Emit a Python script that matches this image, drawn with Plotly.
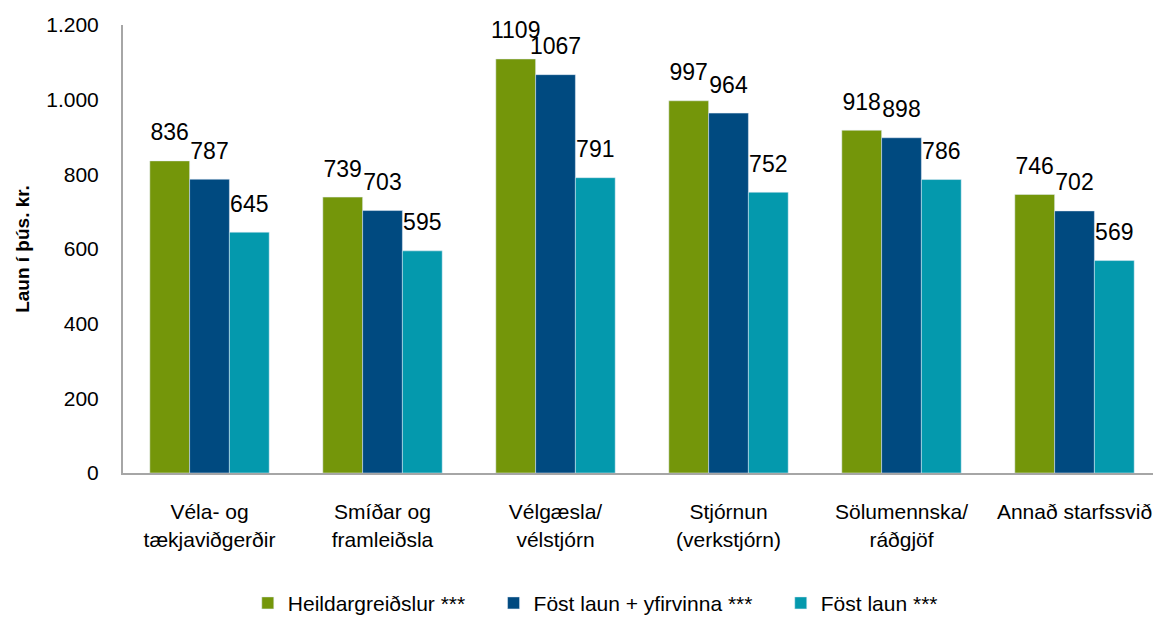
import plotly.graph_objects as go

categories = ["Véla- og<br>tækjaviðgerðir", "Smíðar og<br>framleiðsla", "Vélgæsla/<br>vélstjórn",
              "Stjórnun<br>(verkstjórn)", "Sölumennska/<br>ráðgjöf", "Annað starfssvið"]
heildar = [836, 739, 1109, 997, 918, 746]
yfirvinna = [787, 703, 1067, 964, 898, 702]
fost = [645, 595, 791, 752, 786, 569]

font = "Liberation Sans, Arial, sans-serif"
nb = "\u00a0"

series = [
    ("Heildargreiðslur ***" + nb * 4, heildar, "#74960A"),
    ("Föst laun + yfirvinna ***" + nb * 4, yfirvinna, "#004A80"),
    ("Föst laun ***", fost, "#0499AD"),
]

fig = go.Figure()
for name, vals, color in series:
    fig.add_trace(go.Bar(x=categories, y=vals, name=name, marker_color=color))
# value labels as grouped text points so they can sit a bit above the bars
for name, vals, color in series:
    fig.add_trace(go.Scatter(x=categories, y=vals, mode="markers+text", text=vals,
                             textposition="top center", showlegend=False, hoverinfo="skip",
                             marker=dict(size=22, opacity=0), cliponaxis=False,
                             textfont=dict(size=23, color="black", family=font)))

# browser body margin is 8px, so the figure is sized to fill the rest of the window
fig.update_layout(
    width=1153, height=610,
    plot_bgcolor="white", paper_bgcolor="white",
    font=dict(family=font, size=21, color="black"),
    separators=",.",
    barmode="group", bargap=0.31, bargroupgap=0,
    scattermode="group", scattergap=0.31,
    margin=dict(l=115, r=0, t=17, b=145, autoexpand=False),
    legend=dict(orientation="h", x=0.455, xanchor="center", y=-0.245, yanchor="top",
                font=dict(size=21), traceorder="normal"),
    showlegend=True,
)
fig.update_yaxes(range=[0, 1200], dtick=200, tickformat=",d", showgrid=False,
                 showline=True, linecolor="#A6A6A6", linewidth=2, ticks="", zeroline=False,
                 automargin=False, ticklabelstandoff=18,
                 title=dict(text="<b>Laun í þús. kr.</b>", font=dict(size=19), standoff=12))
fig.update_xaxes(showline=True, linecolor="#A6A6A6", linewidth=2, ticks="", tickangle=0,
                 automargin=False, ticklabelstandoff=19)

fig.write_html("out.html")
